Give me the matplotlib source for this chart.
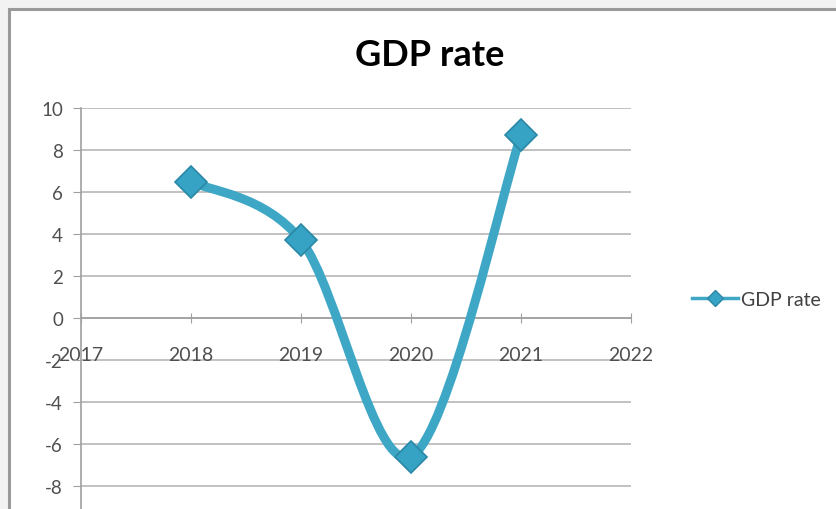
import matplotlib
matplotlib.use("Agg")
import matplotlib.pyplot as plt
from matplotlib.path import Path
from matplotlib.patches import PathPatch, Rectangle
from matplotlib.lines import Line2D

# data
years = [2018, 2019, 2020, 2021]
gdp_rate = [6.5, 3.7, -6.6, 8.7]
x_ticks = [2017, 2018, 2019, 2020, 2021, 2022]
y_ticks = [-8, -6, -4, -2, 0, 2, 4, 6, 8, 10]
series_name = "GDP rate"

line_col = "#3fa7c6"
grid_col = "#b0b0b0"

plt.rcParams["font.family"] = ["Lato", "DejaVu Sans"]
plt.rcParams["axes.unicode_minus"] = False

W, H = 836, 510
fig = plt.figure(figsize=(W / 100, H / 100), dpi=100)
fig.patch.set_facecolor("#f2f2f2")

# chart frame
frame = Rectangle((9 / W, -0.1), 1.2, 1 - 10 / H + 0.1, transform=fig.transFigure,
                  facecolor="white", edgecolor="#9a9a9a", linewidth=2.2, zorder=-5)
fig.patches.append(frame)

ax = fig.add_axes([81 / W, 1 - 529 / H, 550 / W, 420 / H])
ax.set_facecolor("none")
ax.set_xlim(2017, 2022)
ax.set_ylim(-10, 10)
ax.set_xticks(x_ticks)
ax.set_yticks(y_ticks)

for y in y_ticks:
    ax.axhline(y, color=grid_col, lw=1.1, zorder=1)

for s in ["top", "right"]:
    ax.spines[s].set_visible(False)
ax.spines["left"].set_color("#a0a0a0")
ax.spines["left"].set_linewidth(1.2)
ax.spines["bottom"].set_position(("data", 0))
ax.spines["bottom"].set_color("#a0a0a0")
ax.spines["bottom"].set_linewidth(1.2)

ax.tick_params(axis="y", direction="out", length=6, color="#a0a0a0", pad=7,
               labelsize=13.5, labelcolor="#505050")
ax.tick_params(axis="x", direction="inout", length=7, color="#a0a0a0", pad=17,
               labelsize=14, labelcolor="#505050")

# smoothed line (catmull-rom style bezier, like excel's smoothing)
pts = list(zip(years, gdp_rate))
verts = [pts[0]]
codes = [Path.MOVETO]
n = len(pts)
for i in range(n - 1):
    p0 = pts[i - 1] if i > 0 else pts[i]
    p1 = pts[i]
    p2 = pts[i + 1]
    p3 = pts[i + 2] if i + 2 < n else pts[i + 1]
    c1 = (p1[0] + (p2[0] - p0[0]) / 6, p1[1] + (p2[1] - p0[1]) / 6)
    c2 = (p2[0] - (p3[0] - p1[0]) / 6, p2[1] - (p3[1] - p1[1]) / 6)
    verts += [c1, c2, p2]
    codes += [Path.CURVE4] * 3
ax.add_patch(PathPatch(Path(verts, codes), facecolor="none", edgecolor=line_col,
                       lw=6.5, capstyle="round", joinstyle="round", zorder=3, clip_on=False))
ax.plot(years, gdp_rate, ls="none", marker="D", ms=16, mfc="#36a2c4", mec="#2b88a6",
        mew=1.2, zorder=4, clip_on=False)

fig.text(430 / W, 1 - 55 / H, "GDP rate", ha="center", va="center", fontsize=26,
         fontweight="bold", color="black")

handle = Line2D([], [], color=line_col, lw=2.5, marker="D", ms=8, mfc="#36a2c4", mec="#2b88a6")
fig.legend([handle], [series_name], loc="center left", bbox_to_anchor=(682 / W, 1 - 300 / H),
           frameon=False, fontsize=14, handlelength=2.4, handletextpad=0.15, borderpad=0,
           labelcolor="#404040")

fig.savefig("out.png", dpi=100, facecolor=fig.get_facecolor())
